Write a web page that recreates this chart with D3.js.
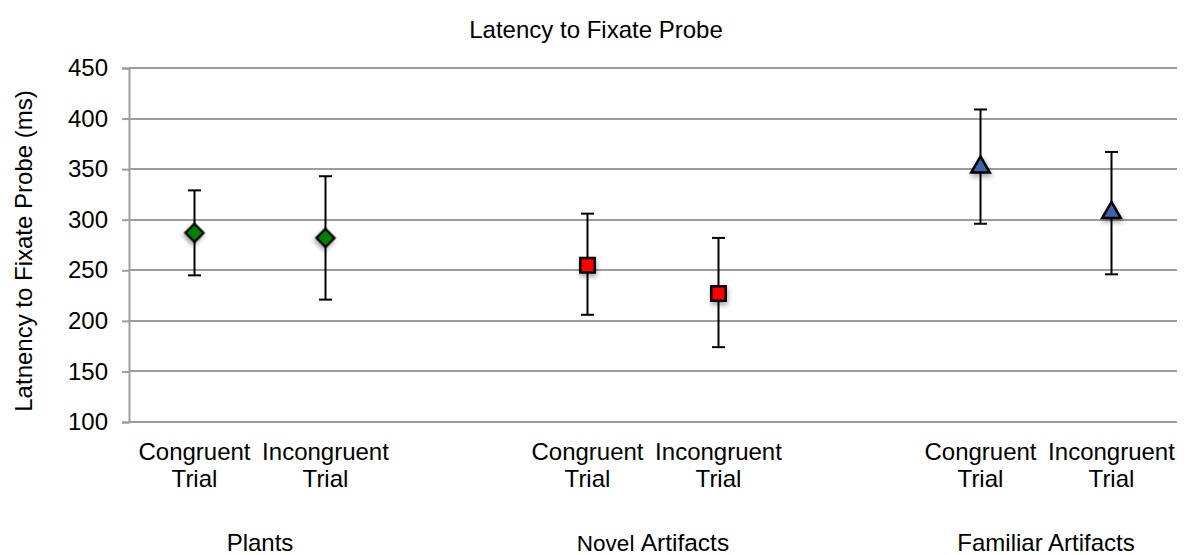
<!DOCTYPE html>
<html>
<head>
<meta charset="utf-8">
<script src="https://cdn.jsdelivr.net/npm/d3@7"></script>
<style>
  html, body { margin: 0; padding: 0; background: #fff; }
  svg { display: block; font-family: "Liberation Sans", Arial, sans-serif; }
</style>
</head>
<body>
<svg id="chart" width="1187" height="555"></svg>
<script>
// ---- data ----
const slotIndex = [0, 1, 2, 3, 4, 5, 6, 7];
const trialLabels = ["Congruent Trial", "Incongruent Trial", "", "Congruent Trial", "Incongruent Trial", "", "Congruent Trial", "Incongruent Trial"];
const means = [287, 282, null, 255, 227, null, 351, 306];
const upper = [329, 343, null, 306, 282, null, 409, 367];
const lower = [245, 221, null, 206, 174, null, 296, 246];
const groupNames = ["Plants", "Novel Artifacts", "Familiar Artifacts"];
const groupOf = [0, 0, null, 1, 1, null, 2, 2];
const groupSymbols = ["diamond", "square", "triangle"];
const groupColors = ["#068206", "#ff0000", "#3d63a8"];
const yTicks = [100, 150, 200, 250, 300, 350, 400, 450];
const chartTitle = "Latency to Fixate Probe";
const yTitle = "Latnency to Fixate Probe (ms)";

// ---- layout ----
const plotL = 129, plotR = 1177, plotT = 68, plotB = 422;
const FS = 24;
const svg = d3.select("#chart");

const x = d3.scaleBand().domain(slotIndex).range([plotL, plotR]);
const y = d3.scaleLinear().domain([100, 450]).range([plotB, plotT]);

// shadow filter
const defs = svg.append("defs");
const f = defs.append("filter").attr("id", "shadow").attr("x", "-50%").attr("y", "-50%").attr("width", "200%").attr("height", "200%");
f.append("feDropShadow").attr("dx", 1).attr("dy", 3).attr("stdDeviation", 2.5).attr("flood-color", "#000").attr("flood-opacity", 0.35);

// gridlines
svg.append("g").selectAll("line").data(yTicks).join("line")
  .attr("x1", plotL).attr("x2", plotR)
  .attr("y1", d => Math.round(y(d))).attr("y2", d => Math.round(y(d)))
  .attr("stroke", "#9d9d9d").attr("stroke-width", 2);

// y axis
const yAxis = svg.append("g").attr("transform", `translate(${plotL},0)`)
  .call(d3.axisLeft(y).tickValues(yTicks).tickSize(7).tickPadding(14).tickFormat(d3.format("d")));
yAxis.select(".domain").attr("stroke", "#9d9d9d").attr("stroke-width", 2);
yAxis.selectAll(".tick line").attr("stroke", "#9d9d9d").attr("stroke-width", 2);
yAxis.selectAll(".tick text").attr("font-size", FS).attr("fill", "#000")
  .attr("font-family", "'Liberation Sans', Arial, sans-serif");

// title
svg.append("text").attr("x", 596).attr("y", 38).attr("text-anchor", "middle")
  .attr("font-size", FS).text(chartTitle);

// y title
svg.append("text").attr("transform", "translate(32,251) rotate(-90)")
  .attr("text-anchor", "middle").attr("font-size", FS).text(yTitle);

// category labels (two lines)
const cat = svg.append("g");
slotIndex.forEach(i => {
  if (!trialLabels[i]) return;
  const parts = trialLabels[i].split(" ");
  const t = cat.append("text").attr("text-anchor", "middle").attr("font-size", FS);
  parts.forEach((p, k) => {
    t.append("tspan").attr("x", x(i) + x.bandwidth() / 2).attr("y", 460 + k * 27).text(p);
  });
});

// group labels
groupNames.forEach((g, gi) => {
  const idx = slotIndex.filter(i => groupOf[i] === gi);
  const cx = d3.mean(idx, i => x(i) + x.bandwidth() / 2);
  const t = svg.append("text").attr("x", cx).attr("y", 551).attr("text-anchor", "middle").attr("font-size", FS);
  if (g === "Novel Artifacts") {
    t.append("tspan").attr("font-size", 22.5).text("Novel ");
    t.append("tspan").attr("font-size", 24.5).text("Artifacts");
  } else {
    t.text(g);
  }
});

// error bars
const eb = svg.append("g").attr("stroke", "#000").attr("stroke-width", 2);
slotIndex.forEach(i => {
  if (means[i] == null) return;
  const cx = x(i) + x.bandwidth() / 2;
  eb.append("line").attr("x1", cx).attr("x2", cx).attr("y1", y(upper[i])).attr("y2", y(lower[i]));
  eb.append("line").attr("x1", cx - 6.5).attr("x2", cx + 6.5).attr("y1", y(upper[i])).attr("y2", y(upper[i]));
  eb.append("line").attr("x1", cx - 6.5).attr("x2", cx + 6.5).attr("y1", y(lower[i])).attr("y2", y(lower[i]));
});

// markers
const symbolMap = {
  diamond: d3.symbol().type(d3.symbolSquare).size(160),
  square: d3.symbol().type(d3.symbolSquare).size(210),
  triangle: d3.symbol().type(d3.symbolTriangle).size(150)
};
const mk = svg.append("g");
slotIndex.forEach(i => {
  if (means[i] == null) return;
  const g = groupOf[i];
  const cx = x(i) + x.bandwidth() / 2;
  const sym = groupSymbols[g];
  const rot = sym === "diamond" ? 45 : 0;
  const dy = sym === "triangle" ? -1 : 0;
  mk.append("path")
    .attr("d", symbolMap[sym]())
    .attr("transform", `translate(${cx},${y(means[i]) + dy}) rotate(${rot})`)
    .attr("fill", groupColors[g])
    .attr("stroke", "#000").attr("stroke-width", 2.5).attr("stroke-linejoin", "miter")
    .attr("filter", "url(#shadow)");
});
</script>
</body>
</html>
